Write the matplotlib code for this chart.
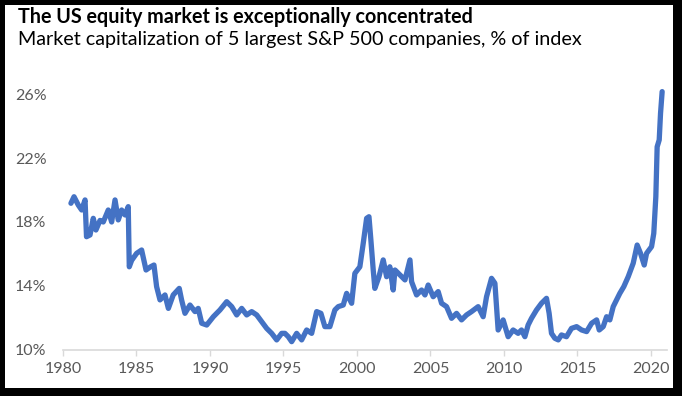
import matplotlib
matplotlib.use("Agg")
import matplotlib.pyplot as plt
from matplotlib.patches import Rectangle

# share of S&P 500 market cap held by the 5 largest companies (%)
years = [1980.54, 1980.75, 1981.04, 1981.27, 1981.5, 1981.6, 1981.84, 1982.06, 1982.24, 1982.52,
         1982.74, 1983.08, 1983.31, 1983.54, 1983.76, 1983.99, 1984.22, 1984.44, 1984.51, 1984.67,
         1985.01, 1985.35, 1985.65, 1985.96, 1986.19, 1986.37, 1986.6, 1986.94, 1987.17, 1987.5,
         1987.91, 1988.07, 1988.3, 1988.64, 1988.98, 1989.2, 1989.44, 1989.78, 1990.23, 1990.68,
         1991.14, 1991.48, 1991.82, 1992.16, 1992.5, 1992.84, 1993.18, 1993.52, 1993.86, 1994.2,
         1994.54, 1994.88, 1995.1, 1995.33, 1995.56, 1995.9, 1996.24, 1996.58, 1996.92, 1997.26,
         1997.55, 1997.82, 1998.16, 1998.5, 1998.73, 1999.07, 1999.3, 1999.64, 1999.86, 2000.2,
         2000.43, 2000.66, 2000.82, 2000.95, 2001.11, 2001.22, 2001.5, 2001.79, 2002.02, 2002.24,
         2002.47, 2002.59, 2002.93, 2003.27, 2003.61, 2003.72, 2004.06, 2004.4, 2004.63, 2004.85,
         2005.19, 2005.53, 2005.76, 2006.1, 2006.44, 2006.78, 2007.12, 2007.46, 2007.8, 2008.25,
         2008.59, 2008.82, 2009.16, 2009.39, 2009.61, 2009.95, 2010.29, 2010.63, 2010.97, 2011.2,
         2011.43, 2011.65, 2011.88, 2012.22, 2012.56, 2012.9, 2013.08, 2013.24, 2013.47, 2013.7,
         2013.92, 2014.26, 2014.6, 2014.95, 2015.29, 2015.63, 2015.97, 2016.31, 2016.49, 2016.76,
         2016.99, 2017.21, 2017.44, 2017.67, 2017.89, 2018.16, 2018.46, 2018.8, 2019.07, 2019.3,
         2019.55, 2019.71, 2020.05, 2020.2, 2020.34, 2020.43, 2020.57, 2020.66, 2020.77]
share = [19.17, 19.58, 19.06, 18.75, 19.38, 17.08, 17.19, 18.23, 17.5, 18.1,
         18.0, 18.75, 18.0, 19.38, 18.13, 18.75, 18.44, 18.96, 15.2, 15.6,
         16.04, 16.25, 15.0, 15.2, 15.31, 13.96, 13.13, 13.44, 12.6, 13.44,
         13.85, 13.13, 12.29, 12.81, 12.4, 12.6, 11.67, 11.56, 12.08, 12.5,
         13.02, 12.71, 12.19, 12.6, 12.19, 12.4, 12.19, 11.77, 11.35, 11.04,
         10.63, 11.04, 11.04, 10.83, 10.52, 11.04, 10.63, 11.25, 11.04, 12.4,
         12.29, 11.46, 11.46, 12.5, 12.71, 12.81, 13.54, 12.92, 14.79, 15.2,
         16.67, 18.23, 18.33, 16.88, 15.0, 13.85, 14.58, 15.63, 14.58, 15.2,
         13.75, 15.0, 14.69, 14.38, 15.63, 14.27, 13.44, 13.75, 13.44, 14.06,
         13.33, 13.65, 12.92, 12.71, 11.98, 12.29, 11.88, 12.19, 12.4, 12.71,
         12.08, 13.33, 14.48, 14.17, 11.25, 11.88, 10.83, 11.25, 11.04, 11.25,
         10.83, 11.56, 11.98, 12.5, 12.92, 13.23, 12.29, 11.04, 10.73, 10.63,
         10.94, 10.83, 11.35, 11.46, 11.25, 11.15, 11.67, 11.88, 11.25, 11.46,
         12.08, 11.88, 12.71, 13.13, 13.54, 13.96, 14.58, 15.42, 16.56, 16.04,
         15.31, 16.04, 16.46, 17.29, 19.58, 22.7, 23.13, 24.79, 26.15]

x_ticks = [1980, 1985, 1990, 1995, 2000, 2005, 2010, 2015, 2020]
y_ticks = [10, 14, 18, 22, 26]

plt.rcParams["font.family"] = ["Lato", "DejaVu Sans"]

fig = plt.figure(figsize=(6.82, 3.96), dpi=100, facecolor="black")
# white card with the black frame/shadow around it
fig.patches.append(Rectangle((5 / 682, 8 / 396), 668 / 682, 383 / 396,
                             transform=fig.transFigure, facecolor="white",
                             edgecolor="none", zorder=0))

ax = fig.add_axes([63 / 682, 0.1162, 604 / 682, 0.7272])
ax.set_zorder(2)
ax.patch.set_alpha(0)
ax.plot(years, share, color="#4472C4", lw=3.8, solid_joinstyle="round",
        solid_capstyle="round")

ax.set_xlim(1980, 2021.1)
ax.set_ylim(10, 28)
ax.set_xticks(x_ticks)
ax.set_yticks(y_ticks)
ax.set_yticklabels([f"{v}%" for v in y_ticks])

for s in ["top", "right", "left"]:
    ax.spines[s].set_visible(False)
ax.spines["bottom"].set_color("#d9d9d9")
ax.spines["bottom"].set_linewidth(1.2)
ax.tick_params(axis="x", colors="#595959", labelsize=11.5, length=4, width=1,
               color="#d9d9d9", pad=5)
ax.tick_params(axis="y", colors="#595959", labelsize=11.5, length=0, pad=12)

fig.text(18 / 682, 1 - 7 / 396, "The US equity market is exceptionally concentrated",
         fontsize=14.2, fontweight="bold", va="top", ha="left", color="black", zorder=3)
fig.text(18 / 682, 1 - 31 / 396, "Market capitalization of 5 largest S&P 500 companies, % of index",
         fontsize=14.2, va="top", ha="left", color="black", zorder=3)

fig.savefig("out.png", dpi=100, facecolor=fig.get_facecolor())
